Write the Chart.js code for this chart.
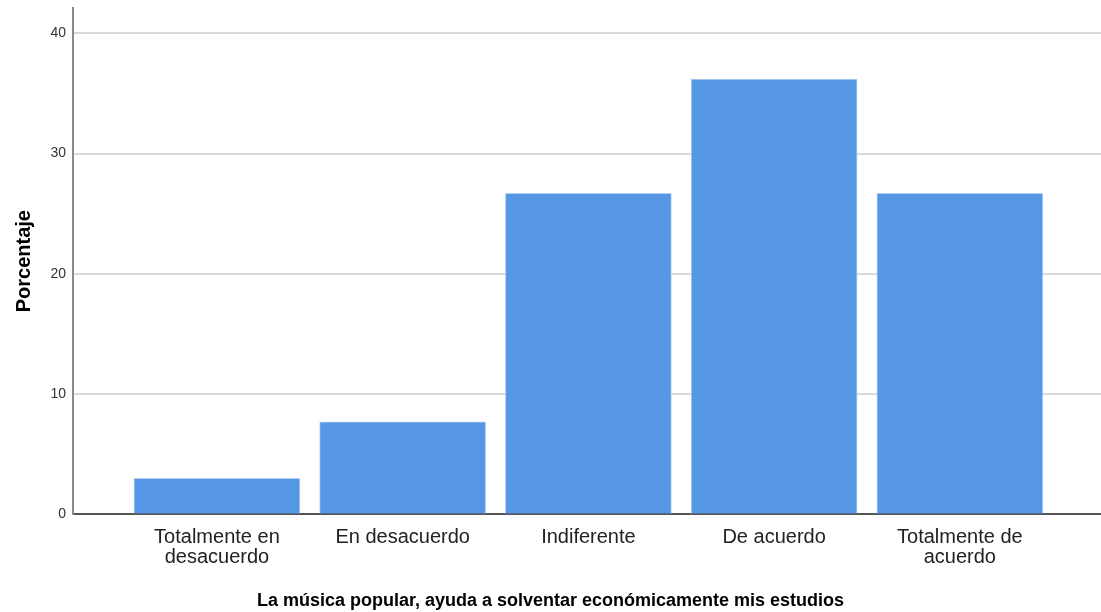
<!DOCTYPE html>
<html lang="es">
<head>
    <meta charset="UTF-8" />
    <title>Porcentaje</title>
    <script src="https://cdn.jsdelivr.net/npm/chart.js"></script>
    <style>
        body {
            margin: 0;
            background: #fff;
        }

        #marco {
            width: 1101px;
            height: 612px;
        }
    </style>
</head>
<body>
    <div id="marco"><canvas id="grafico"></canvas></div>

    <script>
        const categorias = [
            ['Totalmente en', 'desacuerdo'],
            'En desacuerdo',
            'Indiferente',
            'De acuerdo',
            ['Totalmente de', 'acuerdo']
        ];
        const porcentajes = [3.0, 7.7, 26.7, 36.2, 26.7];
        const ticksY = [0, 10, 20, 30, 40];

        const fuente = "'Liberation Sans', Arial, sans-serif";

        const ctx = document.getElementById('grafico').getContext('2d');
        new Chart(ctx, {
            type: 'bar',
            data: {
                datasets: [{
                    data: porcentajes.map((v, i) => ({ x: i, y: v })),
                    backgroundColor: '#5597e4',
                    borderColor: '#b4d0f2',
                    borderWidth: 1,
                    barThickness: 166
                }]
            },
            options: {
                responsive: true,
                maintainAspectRatio: false,
                animation: false,
                layout: { padding: { top: 8, left: 0, right: 0, bottom: 0 } },
                plugins: {
                    legend: { display: false },
                    tooltip: { enabled: false },
                    title: {
                        display: true,
                        position: 'bottom',
                        text: 'La música popular, ayuda a solventar económicamente mis estudios',
                        color: '#000',
                        font: { family: fuente, size: 18, weight: 'bold' },
                        padding: { top: 6, bottom: 0 }
                    }
                },
                scales: {
                    x: {
                        type: 'linear',
                        offset: false,
                        min: -0.775,
                        max: 4.76,
                        afterBuildTicks: s => { s.ticks = categorias.map((c, i) => ({ value: i })); },
                        afterFit: s => { s.height = 70; },
                        grid: { display: false, offset: false },
                        border: { color: '#555', width: 2 },
                        ticks: {
                            color: '#222',
                            padding: 5,
                            maxRotation: 0,
                            autoSkip: false,
                            font: { family: fuente, size: 20, lineHeight: 1 },
                            callback: v => categorias[v]
                        }
                    },
                    y: {
                        min: 0,
                        max: 42.1,
                        afterBuildTicks: s => { s.ticks = ticksY.map(v => ({ value: v })); },
                        afterFit: s => {
                            s.width = 73;
                            s.paddingTop = 0;
                            s.paddingBottom = 0;
                        },
                        grid: {
                            color: '#d9d9d9',
                            lineWidth: 2,
                            drawTicks: false
                        },
                        border: { color: '#8a8a8a', width: 2 },
                        ticks: {
                            color: '#333',
                            padding: 7,
                            font: { family: fuente, size: 14 }
                        },
                        title: {
                            display: true,
                            text: 'Porcentaje',
                            color: '#000',
                            font: { family: fuente, size: 20, weight: 'bold' },
                            padding: { top: 12, bottom: 0 }
                        }
                    }
                }
            }
        });
    </script>
</body>
</html>
